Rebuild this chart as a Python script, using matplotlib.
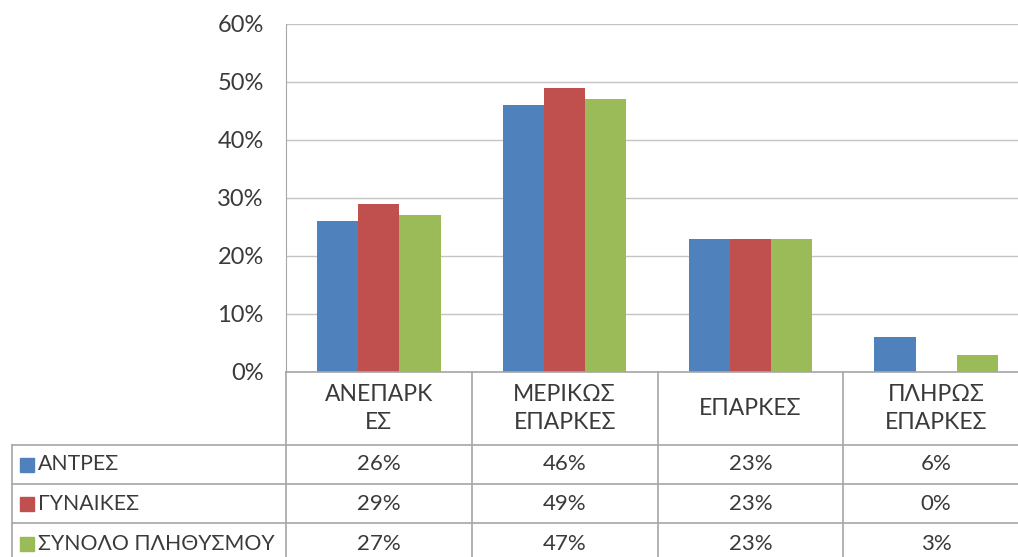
import numpy as np
import matplotlib
matplotlib.use("Agg")
import matplotlib.pyplot as plt
from matplotlib import font_manager
from matplotlib.patches import Rectangle

# ------------------------------------------------
# Data
# ------------------------------------------------
categories = ["ΑΝΕΠΑΡΚ\nΕΣ", "ΜΕΡΙΚΩΣ\nΕΠΑΡΚΕΣ", "ΕΠΑΡΚΕΣ", "ΠΛΗΡΩΣ\nΕΠΑΡΚΕΣ"]
series_names = ["ΑΝΤΡΕΣ", "ΓΥΝΑΙΚΕΣ", "ΣΥΝΟΛΟ ΠΛΗΘΥΣΜΟΥ"]
men = [26, 46, 23, 6]
women = [29, 49, 23, 0]
total = [27, 47, 23, 3]
yticks = [0, 10, 20, 30, 40, 50, 60]

colors = ["#4F81BD", "#C0504D", "#9BBB59"]
TEXT = "#3a3a3a"
GRID = "#c4c4c4"
FS = 16

# Lato is the closest to Calibri among the installed fonts
available = {f.name for f in font_manager.fontManager.ttflist}
family = next((f for f in ["Lato", "Open Sans", "Noto Sans"] if f in available), "DejaVu Sans")
plt.rcParams["font.family"] = [family, "DejaVu Sans"]

W, H = 1018, 557
fig = plt.figure(figsize=(W / 100, H / 100), dpi=100)

# plot area in pixels (right side runs past the image edge)
left_px, right_px, top_px, base_px = 286, 1029, 24, 372
ax = fig.add_axes([left_px / W, 1 - base_px / H,
                   (right_px - left_px) / W, (base_px - top_px) / H])

values = [men, women, total]
x = np.arange(len(categories))
bw = 0.222
for i, (vals, c) in enumerate(zip(values, colors)):
    ax.bar(x + (i - 1) * bw, vals, width=bw, color=c, zorder=3)

ax.set_xlim(-0.5, len(categories) - 0.5)
ax.set_ylim(0, 60)
ax.set_yticks(yticks)
ax.set_yticklabels([f"{v}%" for v in yticks], fontsize=17, color=TEXT)
ax.tick_params(axis="y", length=0, pad=16)
ax.set_xticks([])
ax.grid(axis="y", color=GRID, lw=1, zorder=0)
for s in ["top", "right", "bottom"]:
    ax.spines[s].set_visible(False)
ax.spines["left"].set_color("#a6a6a6")
ax.axhline(60, color="#a6a6a6", lw=1.2, zorder=1)
ax.axhline(0, color="#a6a6a6", lw=1.2, zorder=4, clip_on=False)

# ------------------------------------------------
# Data table under the plot
# ------------------------------------------------
px_per_unit = (right_px - left_px) / len(categories)
def fy(ypx):
    return (base_px - ypx) / (base_px - top_px)

tr = ax.get_xaxis_transform()
table_left = -0.5 + (12 - left_px) / px_per_unit
row_lines = [445, 484, 523]
table_bottom = 565
line_kw = dict(color="#a6a6a6", lw=1.2, transform=tr, clip_on=False)

for xb in np.arange(-0.5, len(categories), 1.0):
    ax.plot([xb, xb], [0, fy(table_bottom)], **line_kw)
ax.plot([table_left, table_left], [fy(row_lines[0]), fy(table_bottom)], **line_kw)
for ry in row_lines:
    ax.plot([table_left, len(categories) - 0.5], [fy(ry), fy(ry)], **line_kw)

for xi, cat in zip(x, categories):
    ax.text(xi, fy((base_px + row_lines[0]) / 2), cat, transform=tr, ha="center", va="center",
            fontsize=16.5, color=TEXT, linespacing=1.4)

row_centers = [(row_lines[0] + row_lines[1]) / 2, (row_lines[1] + row_lines[2]) / 2,
               (row_lines[2] + table_bottom - 4) / 2 + 2]
sq = 14
for name, vals, c, rc in zip(series_names, values, colors, row_centers):
    ax.add_patch(Rectangle((-0.5 + (20 - left_px) / px_per_unit, fy(rc + sq / 2)),
                           sq / px_per_unit, sq / (base_px - top_px),
                           transform=tr, color=c, clip_on=False))
    ax.text(-0.5 + (38 - left_px) / px_per_unit, fy(rc), name, transform=tr,
            ha="left", va="center", fontsize=15.3, color=TEXT)
    for xi, v in zip(x, vals):
        ax.text(xi, fy(rc), f"{v}%", transform=tr, ha="center", va="center",
                fontsize=FS, color=TEXT)

fig.savefig("out.png", dpi=100, facecolor="white")
